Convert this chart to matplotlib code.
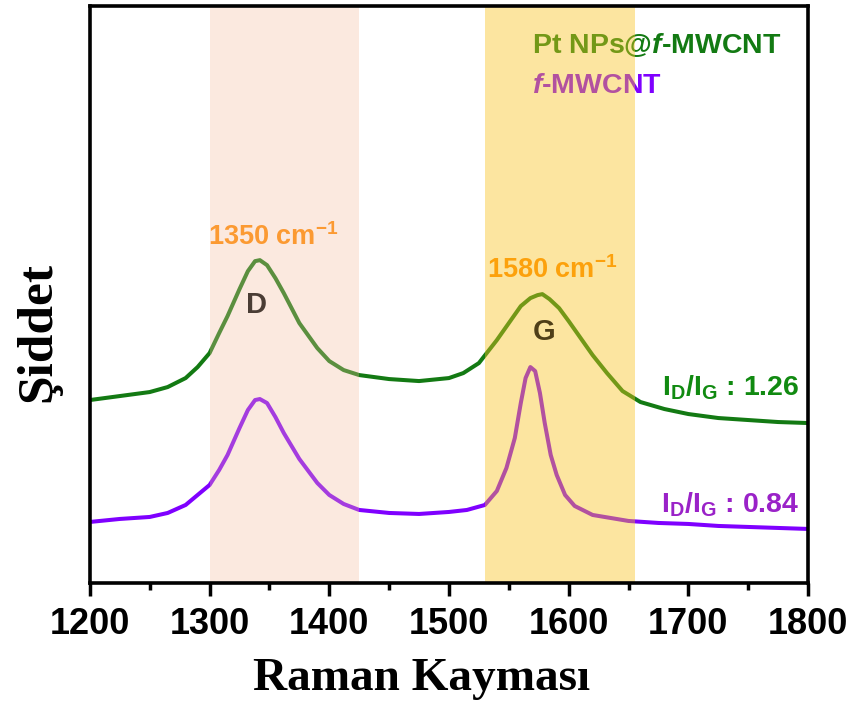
import matplotlib
matplotlib.use("Agg")
import matplotlib.pyplot as plt
from matplotlib.ticker import MultipleLocator

plt.rcParams['mathtext.fontset'] = 'custom'
plt.rcParams['mathtext.rm'] = 'Liberation Sans:bold'
plt.rcParams['mathtext.bf'] = 'Liberation Sans:bold'
plt.rcParams['mathtext.it'] = 'Liberation Sans:bold:italic'

# Raman shift (cm^-1) and intensities (arbitrary units)
shift_pt = [1200, 1225, 1250, 1265, 1280, 1290, 1300, 1308, 1315, 1325, 1332, 1338, 1342,
            1348, 1355, 1362, 1375, 1390, 1400, 1412, 1425, 1450, 1475, 1500, 1512,
            1525, 1540, 1550, 1560, 1568, 1574, 1578, 1584, 1592, 1600, 1610, 1620,
            1632, 1645, 1660, 1680, 1700, 1725, 1750, 1775, 1800]
int_pt = [183, 187, 191, 196, 205, 216, 230, 250, 267, 294, 312, 322, 323,
          318, 305, 290, 260, 235, 222, 213, 208, 204, 202, 205, 210,
          220, 243, 260, 277, 285, 288, 289, 284, 275, 262, 245, 228,
          210, 192, 181, 174, 169, 165, 163, 161, 160]

shift_f = [1200, 1225, 1250, 1265, 1280, 1290, 1300, 1308, 1315, 1325, 1332, 1338, 1342,
           1348, 1355, 1362, 1375, 1390, 1400, 1412, 1425, 1450, 1475, 1500, 1515,
           1530, 1540, 1548, 1555, 1560, 1564, 1568, 1572, 1576, 1580, 1585, 1590,
           1597, 1605, 1620, 1650, 1675, 1700, 1725, 1750, 1775, 1800]
int_f = [61, 64, 66, 70, 78, 88, 98, 113, 128, 155, 173, 183, 184,
         180, 166, 150, 124, 100, 88, 79, 73, 70, 69, 71, 73,
         78, 92, 115, 145, 180, 205, 216, 212, 190, 160, 128, 108,
         88, 77, 68, 62, 60, 59, 57, 56, 55, 54]

label_pt = "Pt NPs@$\\mathit{f}$-MWCNT"
label_f = "$\\mathit{f}$-MWCNT"
ratio_pt = "I$_\\mathrm{D}$/I$_\\mathrm{G}$ : 1.26"
ratio_f = "I$_\\mathrm{D}$/I$_\\mathrm{G}$ : 0.84"
peak_d = "1350 cm$^\\mathrm{-1}$"
peak_g = "1580 cm$^\\mathrm{-1}$"
band_d = (1300, 1425)
band_g = (1530, 1655)

green = '#137a13'
purple = '#7f00ff'

fig = plt.figure(figsize=(8.56, 7.04), dpi=100)
ax = fig.add_axes([0.105, 0.172, 0.839, 0.819])

ax.plot(shift_pt, int_pt, color=green, lw=2.9, zorder=2, solid_joinstyle='round')
ax.plot(shift_f, int_f, color=purple, lw=2.9, zorder=2, solid_joinstyle='round')

ax.axvspan(*band_d, color='#f4bd9e', alpha=0.32, lw=0, zorder=3)
ax.axvspan(*band_g, color='#fac21e', alpha=0.42, lw=0, zorder=3)

ax.set_xlim(1200, 1800)
ax.set_ylim(0, 577)
ax.set_yticks([])
ax.xaxis.set_major_locator(MultipleLocator(100))
ax.xaxis.set_minor_locator(MultipleLocator(50))
ax.tick_params(axis='x', which='major', direction='out', length=9, width=2.5, pad=8)
ax.tick_params(axis='x', which='minor', direction='out', length=5, width=2.5)
for s in ax.spines.values():
    s.set_linewidth(2.6)
    s.set_zorder(5)
for lab in ax.get_xticklabels():
    lab.set_fontfamily('Liberation Sans')
    lab.set_fontweight('bold')
    lab.set_fontsize(26)

ax.set_xlabel("Raman Kaymas\u0131", fontfamily='Liberation Serif', fontweight='bold',
              fontsize=34)
ax.xaxis.set_label_coords(0.462, -0.13)
ax.set_ylabel("\u015eiddet", fontfamily='Liberation Serif', fontweight='bold',
              fontsize=37)
ax.yaxis.set_label_coords(-0.04, 0.435)

sans = dict(fontfamily='Liberation Sans', fontweight='bold')
ax.text(1353, 338, peak_d, color='#ff8a00', fontsize=19.5, ha='center', va='baseline', zorder=2, **sans)
ax.text(1586, 305, peak_g, color='#ff8a00', fontsize=19.5, ha='center', va='baseline', zorder=2, **sans)
ax.text(1339, 270, "D", color='#4a3d35', fontsize=21, ha='center', va='baseline', zorder=4, **sans)
ax.text(1579.5, 243, "G", color='#4f3f18', fontsize=21, ha='center', va='baseline', zorder=4, **sans)
ax.text(1793, 188, ratio_pt, color='#118a11', fontsize=20.5, ha='right', va='baseline', zorder=4, **sans)
ax.text(1793, 70, ratio_f, color='#9a22c8', fontsize=20.5, ha='right', va='baseline', zorder=4, **sans)
ax.text(1569, 530, label_pt, color=green, fontsize=20.5, ha='left', va='baseline', zorder=2, **sans)
ax.text(1569, 490, label_f, color=purple, fontsize=20.5, ha='left', va='baseline', zorder=2, **sans)

fig.savefig("out.png", dpi=100)
